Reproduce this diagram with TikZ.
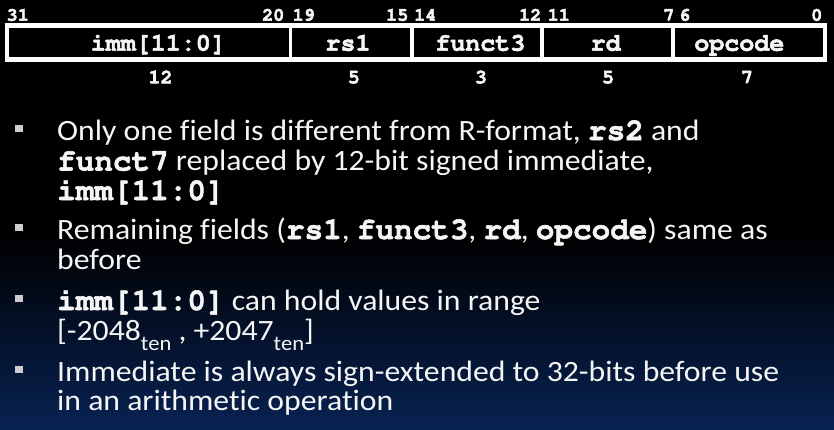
\documentclass[tikz,border=0pt]{standalone}
\usepackage[T1]{fontenc}
\usepackage{fontspec}
\usepackage{tikz}
\setmainfont{Carlito}[Ligatures=NoCommon, FakeStretch=1.075]

\definecolor{slidenavy}{RGB}{8,34,82}
\definecolor{bulletgray}{RGB}{205,205,205}
\definecolor{slidewhite}{RGB}{245,245,245}

\newcommand{\courier}{\fontencoding{T1}\fontfamily{pcr}\bfseries\selectfont}
\newcommand{\heavy}[1]{\special{pdf:literal direct 2 Tr 0.55 w 0.96 0.96 0.96 RG}#1\special{pdf:literal direct 0 Tr}}
\newcommand{\code}[1]{{\fontsize{31}{30}\courier\heavy{#1}}}
\newcommand{\tensub}{\raisebox{-10.5pt}{\fontsize{21}{21}\selectfont ten}}

\begin{document}
\begin{tikzpicture}[x=1pt,y=1pt]
\tikzstyle{every node}+=[inner sep=0pt, text=slidewhite]
\tikzstyle{bitnum}=[font=\fontsize{18.5}{20}\courier]
\tikzstyle{fieldname}=[font=\fontsize{25}{28}\courier, anchor=base]
\tikzstyle{fieldwidth}=[font=\fontsize{20}{22}\courier, anchor=base]
\tikzstyle{bodyline}=[font=\fontsize{29.5}{30}\selectfont, anchor=base west]
\tikzstyle{bulletsq}=[fill=bulletgray, minimum size=7.6pt]
% slide background
\fill [black] (0,0) rectangle (834,-429);
\shade [top color=black, bottom color=slidenavy] (0,-235) rectangle (834,-429);
\useasboundingbox (0,0) rectangle (834,-429);
% bit positions
\draw (6.5,-20.7) node [bitnum, anchor=base west] (b31) {\heavy{31}};
\draw (284.5,-20.7) node [bitnum, anchor=base east] (b20) {\heavy{20}};
\draw (292.5,-20.7) node [bitnum, anchor=base west] (b19) {\heavy{19}};
\draw (408.5,-20.7) node [bitnum, anchor=base east] (b15) {\heavy{15}};
\draw (414,-20.7) node [bitnum, anchor=base west] (b14) {\heavy{14}};
\draw (541.5,-20.7) node [bitnum, anchor=base east] (b12) {\heavy{12}};
\draw (547.5,-20.7) node [bitnum, anchor=base west] (b11) {\heavy{11}};
\draw (674.5,-20.7) node [bitnum, anchor=base east] (b7) {\heavy{7}};
\draw (679,-20.7) node [bitnum, anchor=base west] (b6) {\heavy{6}};
\draw (822.5,-20.7) node [bitnum, anchor=base east] (b0) {\heavy{0}};
% instruction fields
\draw [white, line width=4.2] (7.1,-25.5) rectangle (824.9,-59.5);
\draw [white, line width=3.5] (290.5,-25.5) -- (290.5,-59.5);
\draw [white, line width=3.5] (412,-25.5) -- (412,-59.5);
\draw [white, line width=3.5] (542,-25.5) -- (542,-59.5);
\draw [white, line width=3.5] (673,-25.5) -- (673,-59.5);
\draw (158.3,-50.7) node [fieldname] (fimm) {\heavy{imm[11:0]}};
\draw (348,-50.7) node [fieldname] (frs1) {\heavy{rs1}};
\draw (480.3,-50.7) node [fieldname] (ffunct3) {\heavy{funct3}};
\draw (605.7,-50.7) node [fieldname] (frd) {\heavy{rd}};
\draw (739.3,-50.7) node [fieldname] (fopcode) {\heavy{opcode}};
% field widths
\draw (160.5,-83.3) node [fieldwidth] (wimm) {\heavy{12}};
\draw (353.8,-83.3) node [fieldwidth] (wrs1) {\heavy{5}};
\draw (481,-83.3) node [fieldwidth] (wfunct3) {\heavy{3}};
\draw (608,-83.3) node [fieldwidth] (wrd) {\heavy{5}};
\draw (747,-83.3) node [fieldwidth] (wopcode) {\heavy{7}};
% bullets
\draw (19,-128.5) node [bulletsq] (s1) {};
\draw (57,-140) node [bodyline] (t1a) {Only one field is different from R-format, \code{rs2} and};
\draw (57,-170.5) node [bodyline] (t1b) {\code{funct7} replaced by 12-bit signed immediate,};
\draw (57,-200) node [bodyline] (t1c) {\code{imm[11:0]}};
\draw (19,-227.5) node [bulletsq] (s2) {};
\draw (57,-239) node [bodyline] (t2a) {Remaining fields (\code{rs1}, \code{funct3}, \code{rd}, \code{opcode}) same as};
\draw (57,-269) node [bodyline] (t2b) {before};
\draw (19,-298.5) node [bulletsq] (s3) {};
\draw (57,-310) node [bodyline] (t3a) {\code{imm[11:0]} can hold values in range};
\draw (57,-340) node [bodyline] (t3b) {[-2048\tensub{} , +2047\tensub]};
\draw (19,-369.5) node [bulletsq] (s4) {};
\draw (57,-381) node [bodyline] (t4a) {Immediate is always sign-extended to 32-bits before use};
\draw (57,-410) node [bodyline] (t4b) {in an arithmetic operation};
\end{tikzpicture}
\end{document}
